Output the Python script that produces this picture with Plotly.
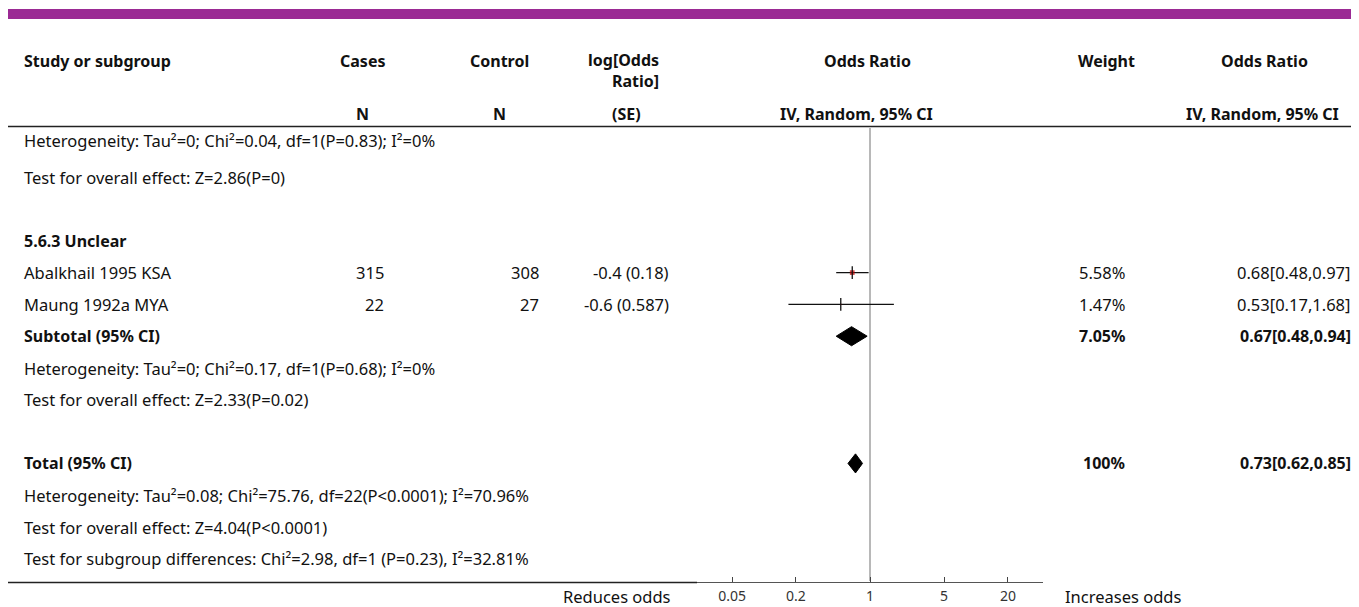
import math
import plotly.graph_objects as go

# The page body has an 8px margin, so the figure is laid out 8px in from the window corner.
WIN_W, WIN_H = 1359, 607
OFF = 8
W, H = WIN_W - OFF, WIN_H - OFF

# ---------------- data ----------------
study_names = ["Abalkhail 1995 KSA", "Maung 1992a MYA"]
cases_n = [315, 22]
control_n = [308, 27]
log_or_se = ["-0.4 (0.18)", "-0.6 (0.587)"]
study_or = [0.68, 0.53]
study_lo = [0.48, 0.17]
study_hi = [0.97, 1.68]
study_weight = [5.58, 1.47]

pooled_labels = ["Subtotal (95% CI)", "Total (95% CI)"]
pooled_or = [0.67, 0.73]
pooled_lo = [0.48, 0.62]
pooled_hi = [0.94, 0.85]
pooled_weight = [7.05, 100]

prev_het = "Heterogeneity: Tau²=0; Chi²=0.04, df=1(P=0.83); I²=0%"
prev_test = "Test for overall effect: Z=2.86(P=0)"
subgroup_title = "5.6.3 Unclear"
sub_het = "Heterogeneity: Tau²=0; Chi²=0.17, df=1(P=0.68); I²=0%"
sub_test = "Test for overall effect: Z=2.33(P=0.02)"
tot_het = "Heterogeneity: Tau²=0.08; Chi²=75.76, df=22(P<0.0001); I²=70.96%"
tot_test = "Test for overall effect: Z=4.04(P<0.0001)"
tot_sub = "Test for subgroup differences: Chi²=2.98, df=1 (P=0.23), I²=32.81%"

tick_vals = [0.05, 0.2, 1, 5, 20]
tick_text = ["0.05", "0.2", "1", "5", "20"]

# ---------------- layout helpers ----------------
FONT = "Source Sans Pro, Noto Sans, sans-serif"
FS = 16.5
FSB = 16
TXT = "#111"
ROW_H = 31.8
ROW1_PX = 177.2 - OFF
y_top = 1 - ROW1_PX / ROW_H
y_bot = y_top + H / ROW_H


def py(p):
    return 1 - (p - OFF) / H


def px(p):
    return (p - OFF) / W


rows = [
    ("text", prev_het, None),
    ("text", prev_test, None),
    ("blank", "", None),
    ("bold", subgroup_title, None),
    ("study", study_names[0], 0),
    ("study", study_names[1], 1),
    ("pooled", pooled_labels[0], 0),
    ("text", sub_het, None),
    ("text", sub_test, None),
    ("blank", "", None),
    ("pooled", pooled_labels[1], 1),
    ("text", tot_het, None),
    ("text", tot_test, None),
    ("text", tot_sub, None),
]


def slot(i):
    return i - 0.14 if i == 0 else float(i)


X_NAME = 22
X_CASES_R = 386
X_CTRL_R = 541
X_LOG_R = 671
X_W_R = 1127
X_OR_R = 1353

fig = go.Figure()
ann = []


def add_text(x, y, t, anchor, yref="y", size=FS, align="center"):
    ann.append(dict(x=px(x), y=y, xref="paper", yref=yref, text=t,
                    xanchor=anchor, yanchor="middle", showarrow=False,
                    align=align, font=dict(size=size)))


study_slots = [None, None]
pooled_slots = [None, None]
for i, (kind, label, idx) in enumerate(rows):
    s = slot(i)
    if kind == "blank":
        continue
    bold = kind in ("bold", "pooled")
    if bold:
        add_text(X_NAME, s, f"<b>{label}</b>", "left", size=FSB)
    else:
        add_text(X_NAME, s, label, "left")
    if kind == "study":
        study_slots[idx] = s
        add_text(X_CASES_R, s, str(cases_n[idx]), "right")
        add_text(X_CTRL_R, s, str(control_n[idx]), "right")
        add_text(X_LOG_R, s, log_or_se[idx], "right")
        add_text(X_W_R, s, f"{study_weight[idx]:.2f}%", "right")
        add_text(X_OR_R, s, f"{study_or[idx]:.2f}[{study_lo[idx]:.2f},{study_hi[idx]:.2f}]", "right")
    if kind == "pooled":
        pooled_slots[idx] = s
        w = pooled_weight[idx]
        wt = f"{w:.2f}%" if w < 100 else f"{w:g}%"
        add_text(X_W_R, s, f"<b>{wt}</b>", "right", size=FSB)
        add_text(X_OR_R, s,
                 f"<b>{pooled_or[idx]:.2f}[{pooled_lo[idx]:.2f},{pooled_hi[idx]:.2f}]</b>",
                 "right", size=FSB)

# header
hdr1 = 61
hdr2 = 114
headers = [
    (X_NAME, hdr1, "<b>Study or subgroup</b>", "left", "left"),
    (362, hdr1, "<b>Cases</b>", "center", "center"),
    (499, hdr1, "<b>Control</b>", "center", "center"),
    (661, hdr1 + 9, "<b>log[Odds<br>Ratio]</b>", "right", "right"),
    (867, hdr1, "<b>Odds Ratio</b>", "center", "center"),
    (1106, hdr1, "<b>Weight</b>", "center", "center"),
    (1264, hdr1, "<b>Odds Ratio</b>", "center", "center"),
    (362, hdr2, "<b>N</b>", "center", "center"),
    (499, hdr2, "<b>N</b>", "center", "center"),
    (626, hdr2, "<b>(SE)</b>", "center", "center"),
    (857, hdr2, "<b>IV, Random, 95% CI</b>", "center", "center"),
    (1262, hdr2, "<b>IV, Random, 95% CI</b>", "center", "center"),
]
for x, y, t, a, al in headers:
    add_text(x, py(y), t, a, yref="paper", size=FSB, align=al)

# direction labels
add_text(673, py(596.5), "Reduces odds", "right", yref="paper")
add_text(1063, py(596.5), "Increases odds", "left", yref="paper")

# ---------------- forest marks ----------------
fig.add_trace(go.Scatter(
    x=study_or, y=study_slots, mode="markers",
    marker=dict(symbol="square", size=[w * 0.85 for w in study_weight], color="#c00000",
                line=dict(width=0)),
    error_x=dict(type="data", symmetric=False,
                 array=[h - o for h, o in zip(study_hi, study_or)],
                 arrayminus=[o - l for o, l in zip(study_or, study_lo)],
                 color="#111", thickness=1.3, width=0),
    hoverinfo="skip", showlegend=False))
fig.add_trace(go.Scatter(
    x=study_or, y=study_slots, mode="markers",
    marker=dict(symbol="line-ns", size=9, line=dict(width=1.3, color="#111")),
    hoverinfo="skip", showlegend=False))

DH = 0.30
for k in range(2):
    s = pooled_slots[k]
    fig.add_trace(go.Scatter(
        x=[pooled_lo[k], pooled_or[k], pooled_hi[k], pooled_or[k], pooled_lo[k]],
        y=[s, s - DH, s, s + DH, s],
        mode="lines", fill="toself", fillcolor="#000", line=dict(color="#000", width=1),
        hoverinfo="skip", showlegend=False))

# ---------------- shapes ----------------
shapes = [
    dict(type="rect", xref="paper", yref="paper", x0=0, x1=1, y0=py(9), y1=py(19),
         fillcolor="#9b2a94", line=dict(width=0)),
    dict(type="line", xref="paper", yref="paper", x0=0, x1=1, y0=py(126.5), y1=py(126.5),
         line=dict(color="#222", width=1.5)),
    dict(type="line", xref="paper", yref="paper", x0=0, x1=px(697), y0=py(582.5), y1=py(582.5),
         line=dict(color="#222", width=1.5)),
    dict(type="line", xref="x", yref="paper", x0=1, x1=1, y0=py(128), y1=py(581),
         line=dict(color="#a0a0a0", width=1.5), layer="below"),
]

AX_L, AX_R = 697, 1043
half = (AX_R - AX_L) / 2 / 106.0

fig.update_layout(
    width=W, height=H,
    margin=dict(l=0, r=0, t=0, b=0),
    paper_bgcolor="white", plot_bgcolor="rgba(0,0,0,0)",
    font=dict(family=FONT, size=FS, color=TXT),
    annotations=ann, shapes=shapes,
    xaxis=dict(type="log", domain=[px(AX_L), px(AX_R)], range=[-half, half],
               anchor="free", position=py(581.5),
               showline=True, linecolor="#555", linewidth=1,
               ticks="inside", ticklen=5, tickcolor="#444", tickwidth=1,
               tickvals=tick_vals, ticktext=tick_text,
               tickfont=dict(size=14, color="#333"), ticklabelstandoff=2,
               showgrid=False, zeroline=False),
    yaxis=dict(domain=[0, 1], range=[y_bot, y_top], visible=False,
               showgrid=False, zeroline=False),
    showlegend=False,
)

fig.write_html("out.html")
